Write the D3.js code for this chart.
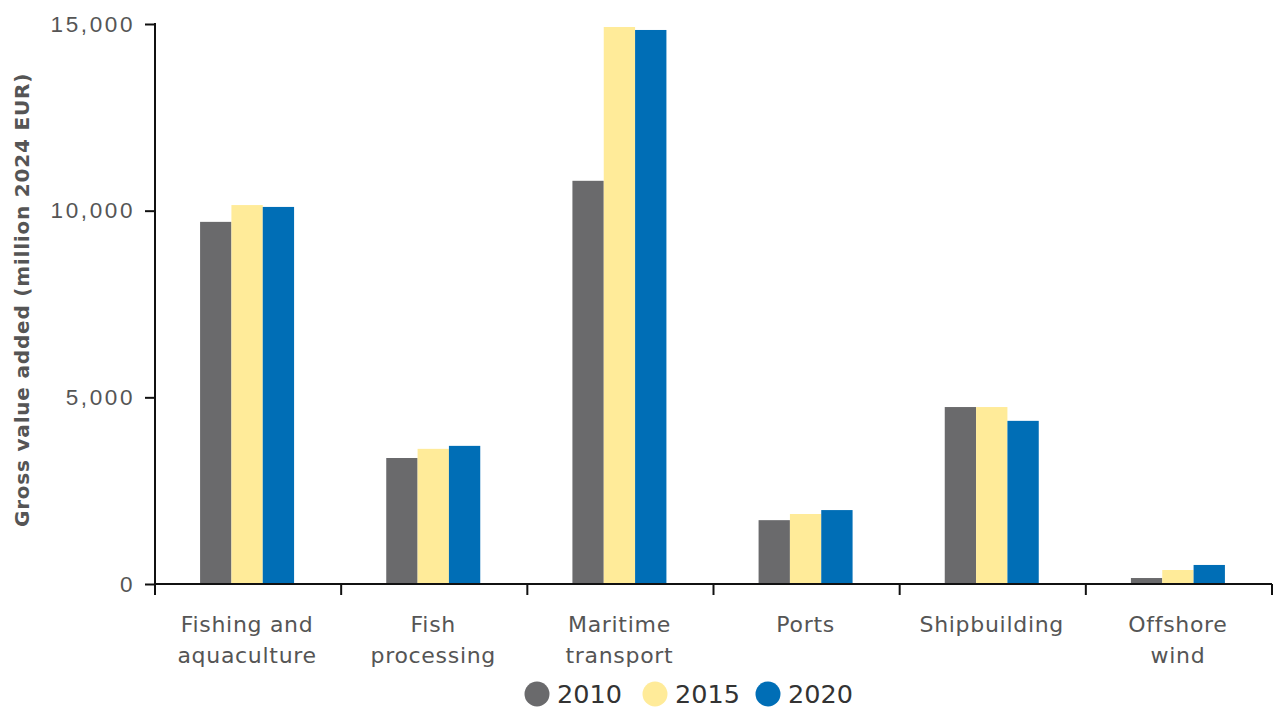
<!DOCTYPE html>
<html>
<head>
<meta charset="utf-8">
<script src="https://cdn.jsdelivr.net/npm/d3@7"></script>
<style>
  html, body { margin: 0; padding: 0; background: #fff; }
  svg { display: block; font-family: "DejaVu Sans", "Noto Sans", sans-serif; }
</style>
</head>
<body>
<svg id="chart" width="1276" height="709"></svg>
<script>
// Gross value added by sector (million 2024 EUR)
const categories = ["Fishing and\naquaculture", "Fish\nprocessing", "Maritime\ntransport", "Ports", "Shipbuilding", "Offshore\nwind"];
const years = ["2010", "2015", "2020"];
const values2010 = [9700, 3375, 10800, 1710, 4740, 160];
const values2015 = [10150, 3620, 14920, 1875, 4740, 375];
const values2020 = [10100, 3700, 14840, 1980, 4370, 510];
const yTicks = [0, 5000, 10000, 15000];
const colors = ["#6a6a6c", "#ffeb99", "#006eb6"];

const series = [values2010, values2015, values2020];

const svg = d3.select("#chart");
const margin = { left: 155, right: 4, top: 24, bottom: 125 };
const W = 1276, H = 709;

const x = d3.scaleBand().domain(categories).range([margin.left, W - margin.right]).paddingInner(0).paddingOuter(0);
const groupWidth = 94;
const xInner = d3.scaleBand().domain(years).range([0, groupWidth]);
const y = d3.scaleLinear().domain([0, 15000]).range([H - margin.bottom, margin.top]);

// bars
const groups = svg.append("g").selectAll("g").data(categories).join("g")
  .attr("transform", d => `translate(${x(d) + (x.bandwidth() - groupWidth) / 2 - 1},0)`);
groups.selectAll("rect")
  .data((d, i) => years.map((yr, j) => ({ yr, v: series[j][i], c: colors[j] })))
  .join("rect")
  .attr("x", d => xInner(d.yr))
  .attr("width", xInner.bandwidth())
  .attr("y", d => y(d.v))
  .attr("height", d => y(0) - y(d.v))
  .attr("fill", d => d.c);

// y axis
const yAxis = svg.append("g")
  .attr("transform", `translate(${margin.left},0)`)
  .call(d3.axisLeft(y).tickValues(yTicks).tickFormat(d3.format(",")).tickSize(10).tickPadding(10));
yAxis.select(".domain").attr("stroke", "#111").attr("stroke-width", 2).attr("d", `M0,${y(0)}V${margin.top - 1}`);
yAxis.selectAll(".tick line").attr("stroke", "#111").attr("stroke-width", 2);
yAxis.selectAll(".tick text").attr("fill", "#555").attr("font-size", 22.5)
  .attr("letter-spacing", 2.6).attr("dy", "0.32em");

// x axis
const xAxis = svg.append("g").attr("transform", `translate(0,${y(0)})`);
xAxis.append("line").attr("x1", margin.left - 1).attr("x2", W - margin.right)
  .attr("stroke", "#111").attr("stroke-width", 2);
const boundaries = categories.map(c => x(c)).concat([x(categories[categories.length - 1]) + x.bandwidth()]);
xAxis.selectAll("line.tk").data(boundaries).join("line").attr("class", "tk")
  .attr("x1", d => d).attr("x2", d => d).attr("y1", 0).attr("y2", 11)
  .attr("stroke", "#111").attr("stroke-width", 2);
xAxis.selectAll("text.cat").data(categories).join("text").attr("class", "cat")
  .attr("text-anchor", "middle").attr("fill", "#555").attr("font-size", 22).attr("letter-spacing", 0.7)
  .attr("transform", d => `translate(${x(d) + x.bandwidth() / 2 - 1},48)`)
  .each(function (d) {
    d.split("\n").forEach((line, i) => {
      d3.select(this).append("tspan").attr("x", 0).attr("y", i * 31).text(line);
    });
  });

// y axis title
svg.append("text")
  .attr("transform", `translate(29,${(y(0) + y(15000)) / 2 - 4}) rotate(-90)`)
  .attr("text-anchor", "middle").attr("fill", "#555").attr("font-size", 20).attr("font-weight", "bold")
  .attr("letter-spacing", 0.8)
  .text("Gross value added (million 2024 EUR)");

// legend
const legendX = [537, 655, 768];
const legend = svg.append("g").selectAll("g").data(years).join("g")
  .attr("transform", (d, i) => `translate(${legendX[i]},694)`);
legend.append("circle").attr("r", 12.5).attr("fill", (d, i) => colors[i]);
legend.append("text").attr("x", 20).attr("dy", "0.36em").attr("font-size", 25.5).attr("fill", "#333").text(d => d);
</script>
</body>
</html>
